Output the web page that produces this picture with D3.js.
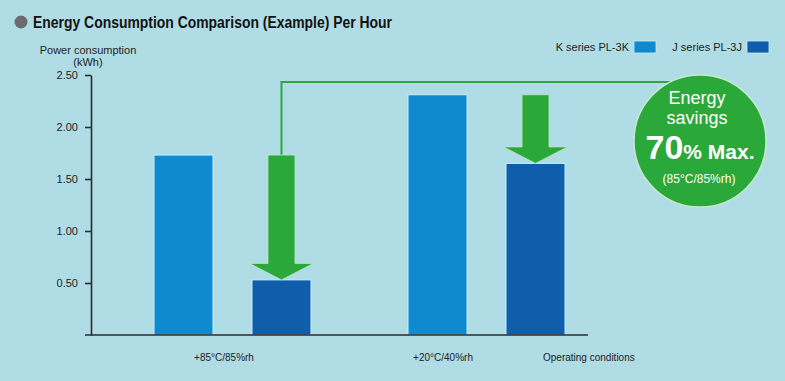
<!DOCTYPE html>
<html>
<head>
<meta charset="utf-8">
<script src="https://cdn.jsdelivr.net/npm/d3@7"></script>
<style>
  html, body { margin: 0; padding: 0; background: #b0dde5; }
  svg { display: block; }
  text { font-family: "Liberation Sans", Arial, Helvetica, sans-serif; }
</style>
</head>
<body>
<svg id="chart" width="785" height="381"></svg>
<script>
// ---- data ----
const categories = ["+85°C/85%rh", "+20°C/40%rh"];
const series = ["K series PL-3K", "J series PL-3J"];
const kValues = [1.73, 2.31];
const jValues = [0.53, 1.65];
const yTicks = [0.5, 1.0, 1.5, 2.0, 2.5];
const title = "Energy Consumption Comparison (Example) Per Hour";
const yTitle = ["Power consumption", "(kWh)"];
const xTitle = "Operating conditions";
const badgeLines = ["Energy", "savings"];
const badgeBig = "70";
const badgeUnit = "% Max.";
const badgeNote = "(85°C/85%rh)";

// ---- style / layout ----
const W = 785, H = 381;
const colors = { K: "#0f8ad0", J: "#105dab", green: "#2ba83a", axis: "#2a2a2a", bg: "#b0dde5", barStroke: "#c9eef5" };
const labelShift = [70, 35];

const svg = d3.select("#chart");
svg.append("rect").attr("width", W).attr("height", H).attr("fill", colors.bg);

const y = d3.scaleLinear().domain([0, 2.5]).range([335, 75]);
const x0 = d3.scaleBand().domain(categories).range([154, 565]).paddingInner(0.382).paddingOuter(0);
const x1 = d3.scaleBand().domain(series).range([0, x0.bandwidth()]).paddingInner(0.398).paddingOuter(0);

const rows = categories.map((c, i) => ({ cat: c, vals: [{ s: series[0], v: kValues[i], c: colors.K }, { s: series[1], v: jValues[i], c: colors.J }] }));

// title
svg.append("circle").attr("cx", 21).attr("cy", 22).attr("r", 6.5).attr("fill", "#6b6b6e");
svg.append("text").attr("x", 33).attr("y", 28).attr("font-size", 16).attr("font-weight", "bold")
  .attr("fill", "#111").attr("textLength", 359).attr("lengthAdjust", "spacingAndGlyphs").text(title);

// y title
svg.append("g").selectAll("text").data(yTitle).join("text")
  .attr("x", 88).attr("y", (d, i) => 54 + i * 12).attr("text-anchor", "middle")
  .attr("font-size", 11).attr("fill", "#222").text(d => d);

// legend
const legX = [629, 742];
series.forEach((s, i) => {
  svg.append("text").attr("x", legX[i]).attr("y", 51.3).attr("text-anchor", "end")
    .attr("font-size", 11).attr("fill", "#222").text(s);
  svg.append("rect").attr("x", legX[i] + 5).attr("y", 41).attr("width", 22).attr("height", 12)
    .attr("fill", i === 0 ? colors.K : colors.J).attr("stroke", colors.barStroke).attr("stroke-width", 0.8);
});

// green connector line
const arrowX = i => x0(categories[i]) + x1(series[1]) + x1.bandwidth() / 2;
const badge = { cx: 700, cy: 141, r: 66, lineY: 82 };
svg.append("path")
  .attr("d", `M${arrowX(0)},${y(kValues[0])} V${badge.lineY} H${badge.cx}`)
  .attr("fill", "none").attr("stroke", colors.green).attr("stroke-width", 2);

// bars
const g = svg.append("g");
g.selectAll("g").data(rows).join("g")
  .attr("transform", d => `translate(${x0(d.cat)},0)`)
  .selectAll("rect").data(d => d.vals).join("rect")
  .attr("x", d => x1(d.s)).attr("width", x1.bandwidth())
  .attr("y", d => y(d.v)).attr("height", d => y(0) - y(d.v))
  .attr("fill", d => d.c).attr("stroke", colors.barStroke).attr("stroke-width", 1);

// arrows
const shaftHW = 13.5, headHW = 32, headH = 16.5;
svg.append("g").selectAll("path").data(categories).join("path")
  .attr("d", (c, i) => {
    const cx = arrowX(i), top = y(kValues[i]), tip = y(jValues[i]), hy = tip - headH;
    return `M${cx - shaftHW},${top} H${cx + shaftHW} V${hy} H${cx + headHW} L${cx},${tip} L${cx - headHW},${hy} H${cx - shaftHW} Z`;
  })
  .attr("fill", colors.green).attr("stroke", "#bfe6c4").attr("stroke-width", 0.8);

// y axis
const yAxis = d3.axisLeft(y).tickValues(yTicks).tickFormat(d3.format(".2f")).tickSize(6).tickSizeOuter(0).tickPadding(7);
const ya = svg.append("g").attr("transform", "translate(91,0)").call(yAxis);
ya.select(".domain").attr("stroke", colors.axis).attr("stroke-width", 1.6);
ya.selectAll(".tick line").attr("stroke", colors.axis).attr("stroke-width", 1.6);
ya.selectAll(".tick text").attr("font-size", 11).attr("fill", "#222")
  .attr("font-family", "'Liberation Sans', Arial, sans-serif");

// baseline
svg.append("line").attr("x1", 85).attr("x2", 588).attr("y1", y(0)).attr("y2", y(0))
  .attr("stroke", colors.axis).attr("stroke-width", 1.6);

// category labels
svg.append("g").selectAll("text").data(categories).join("text")
  .attr("x", (c, i) => x0(c) + labelShift[i]).attr("y", 360.5).attr("text-anchor", "middle")
  .attr("font-size", 10).attr("fill", "#222").text(d => d);
svg.append("text").attr("x", 543).attr("y", 360.5).attr("font-size", 10).attr("fill", "#222").text(xTitle);

// badge
svg.append("circle").attr("cx", badge.cx).attr("cy", badge.cy).attr("r", badge.r)
  .attr("fill", colors.green).attr("stroke", "#c4ead0").attr("stroke-width", 1.5);
svg.append("g").selectAll("text").data(badgeLines).join("text")
  .attr("x", 697).attr("y", (d, i) => 104 + i * 19.5).attr("text-anchor", "middle")
  .attr("font-size", 18).attr("fill", "#fff").text(d => d);
const big = svg.append("text").attr("x", 700).attr("y", 159).attr("text-anchor", "middle").attr("fill", "#fff").attr("font-weight", "bold");
big.append("tspan").attr("font-size", 34).text(badgeBig);
big.append("tspan").attr("font-size", 21).text(badgeUnit);
svg.append("text").attr("x", 699).attr("y", 183).attr("text-anchor", "middle")
  .attr("font-size", 12).attr("fill", "#fff").text(badgeNote);
</script>
</body>
</html>
